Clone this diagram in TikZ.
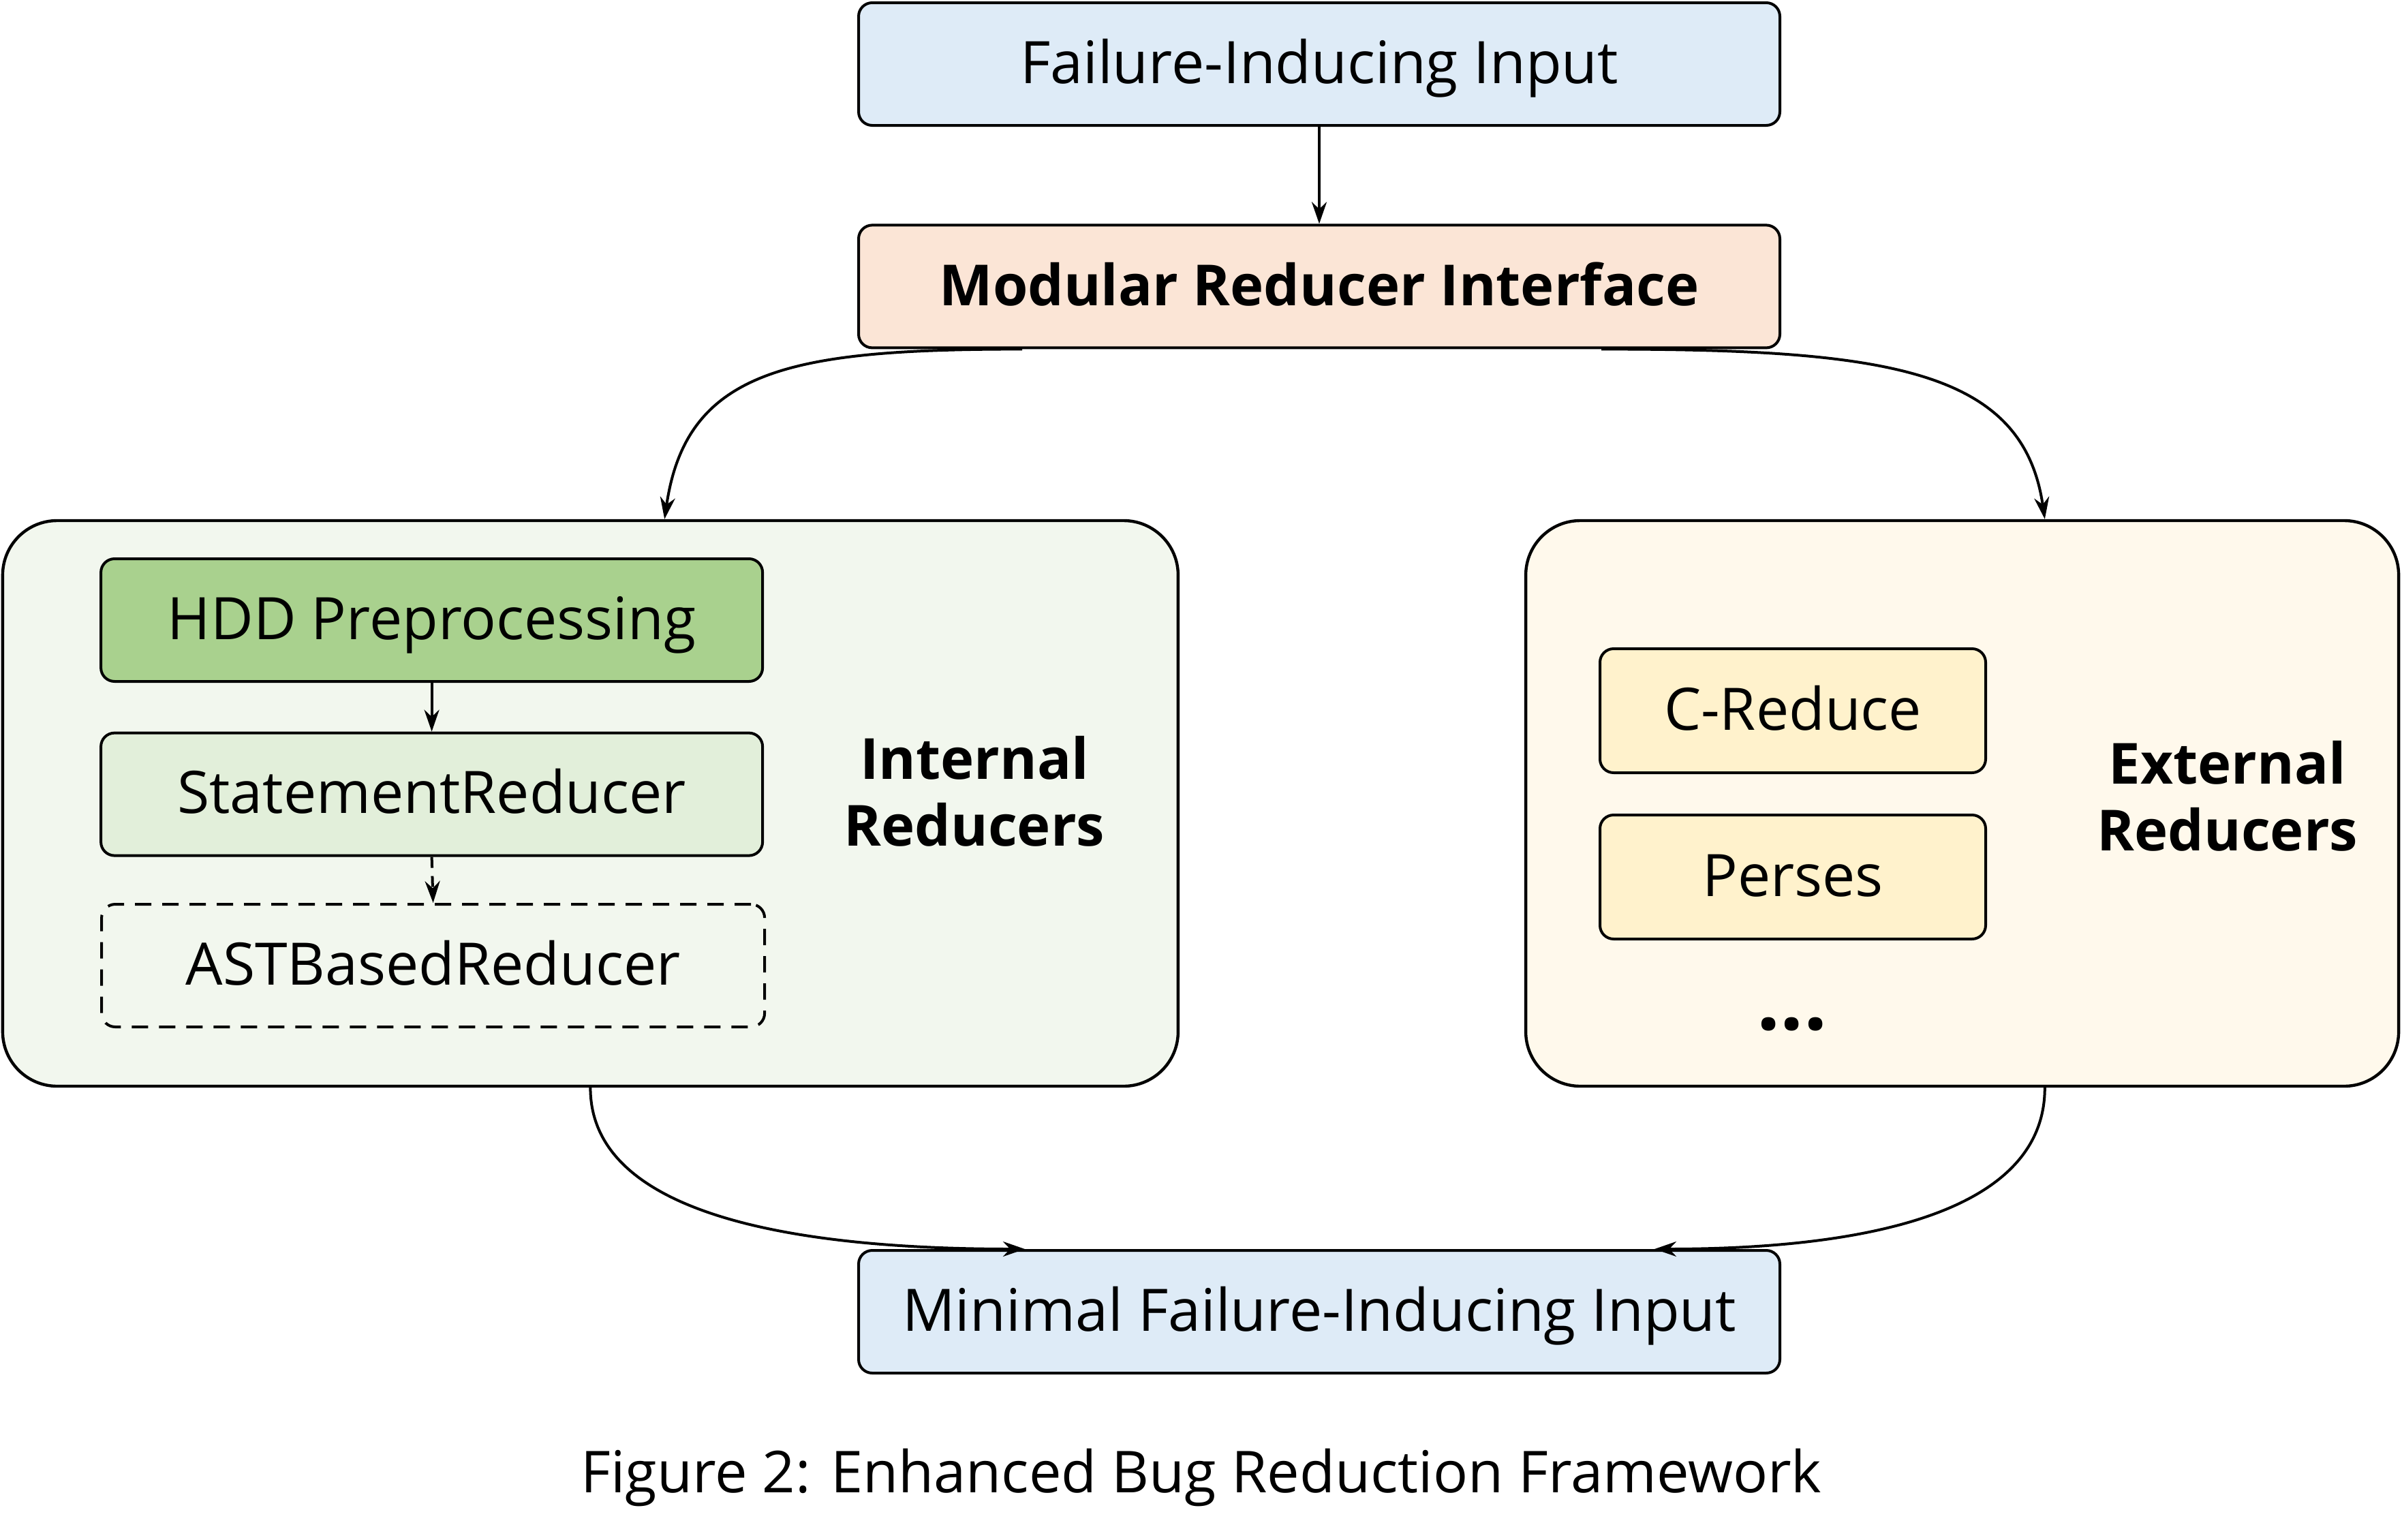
\documentclass[tikz,border=0pt]{standalone}
\usepackage{fontspec}
\setmainfont{Open Sans}
\usetikzlibrary{arrows.meta}
\definecolor{ioblue}{HTML}{DEEBF7}
\definecolor{mripeach}{HTML}{FBE5D6}
\definecolor{intbg}{HTML}{F2F7EE}
\definecolor{hddgreen}{HTML}{A9D18E}
\definecolor{stmtgreen}{HTML}{E2EFDA}
\definecolor{extbg}{HTML}{FFF9EC}
\definecolor{extbox}{HTML}{FFF2CC}
\tikzset{
  box/.style={draw=black, line width=1pt, rounded corners=5pt, minimum height=45pt,
    text height=18pt, text depth=4pt, inner sep=0pt},
  bigbox/.style={draw=black, line width=1.1pt, rounded corners=20pt, inner sep=0pt},
  boldtext/.style={font=\fontsize{20.8}{24.5}\selectfont\bfseries},
  grouplabel/.style={boldtext, align=center},
  conn/.style={line width=1pt, -{Stealth[length=8pt,width=5.5pt]}},
}
\begin{document}
\begin{tikzpicture}[x=1pt,y=1pt, font=\fontsize{21.5}{24.5}\selectfont]
\useasboundingbox (0,0) rectangle (881.25,-565);
% top and interface
\node[box, fill=ioblue, minimum width=338pt] (fii) at (484,-23.5) {Failure-Inducing Input};
\node[box, fill=mripeach, minimum width=338pt, boldtext] (mri) at (484,-105.1) {Modular Reducer Interface};
% group boxes
\node[bigbox, fill=intbg, minimum width=431.25pt, minimum height=207.5pt] (lbox) at (216.6,-294.75) {};
\node[bigbox, fill=extbg, minimum width=320.25pt, minimum height=207.5pt] (rbox) at (719.9,-294.75) {};
% internal reducers
\node[box, fill=hddgreen, minimum width=242.75pt] (hdd) at (158.4,-227.5) {HDD Preprocessing};
\node[box, fill=stmtgreen, minimum width=242.75pt] (stmt) at (158.4,-291.4) {StatementReducer};
\node[box, dashed, dash pattern=on 6pt off 4pt, minimum width=243.25pt] (ast) at (158.9,-354.25) {ASTBasedReducer};
\node[grouplabel] (ilabel) at (357.5,-290.4) {Internal\\Reducers};
% external reducers
\node[box, fill=extbox, minimum width=141.5pt, minimum height=45.5pt] (creduce) at (657.75,-260.75) {C-Reduce};
\node[box, fill=extbox, minimum width=141.5pt, minimum height=45.5pt] (perses) at (657.75,-321.75) {Perses};
\node[anchor=base, font=\fontsize{30}{30}\selectfont\bfseries] (dots) at (657.5,-377.8) {...};
\node[grouplabel] (elabel) at (817.25,-292) {External\\Reducers};
% output
\node[box, fill=ioblue, minimum width=338pt] (mfi) at (484,-481.25) {Minimal Failure-Inducing Input};
% caption
\node[anchor=base, font=\fontsize{21.2}{24.5}\selectfont] (caption) at (440.75,-547.5) {Figure 2: Enhanced Bug Reduction Framework};
% connectors
\draw[conn] (fii.south) -- (mri.north);
\draw[conn] (hdd.south) -- (stmt.north);
\draw[conn, dashed, dash pattern=on 4pt off 3pt] (stmt.south) -- (ast.north);
\draw[conn] ([xshift=-109pt]mri.south) .. controls +(-85,0) and +(8,55) .. ([xshift=27.2pt]lbox.north);
\draw[conn] ([xshift=103.5pt]mri.south) .. controls +(105,0) and +(-8,55) .. ([xshift=30.3pt]rbox.north);
\draw[conn] (lbox.south) .. controls +(0,-45) and +(-90,0) .. ([xshift=-108pt]mfi.north);
\draw[conn] ([xshift=30.3pt]rbox.south) .. controls +(0,-45) and +(80,0) .. ([xshift=123pt]mfi.north);
\end{tikzpicture}
\end{document}
